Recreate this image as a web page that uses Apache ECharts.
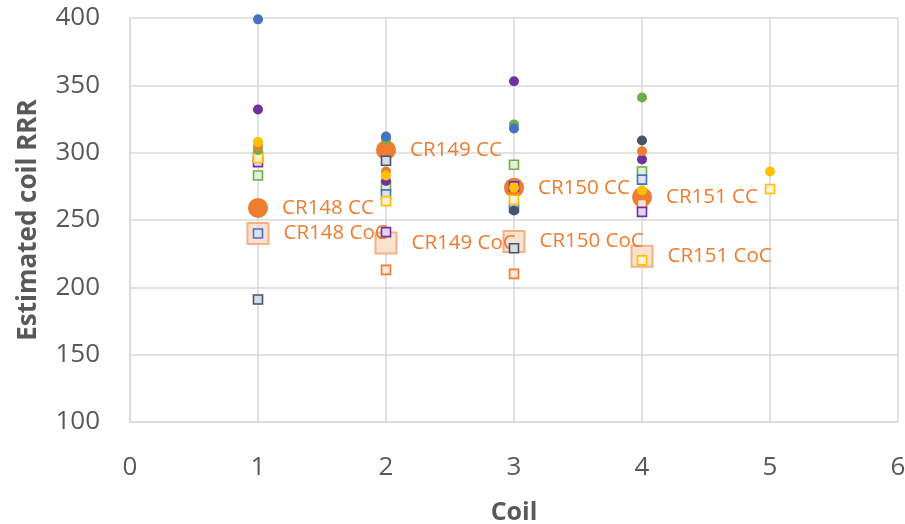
<!DOCTYPE html>
<html><head><meta charset="utf-8">
<script src="https://cdn.jsdelivr.net/npm/echarts@6/dist/echarts.min.js"></script>
<style>html,body{margin:0;padding:0;background:#fff}#c{width:905px;height:524px}</style>
</head><body><div id="c"></div>
<script>
// coil index 1..5
const coils = [1, 2, 3, 4, 5];
// CC (circle) values per coil, by colour group
const blueCC   = [399, 312, 318, null, null];
const orangeCC = [305, 286, null, 301, null];
const purpleCC = [332, 279, 353, 295, null];
const yellowCC = [308, 283, 274, 272, 286];
const greenCC  = [302, 310, 321, 341, null];
const navyCC   = [null, null, 257, 309, null];
// CoC (square) values per coil
const blueCoC   = [240, 269, 259, 280, null];
const orangeCoC = [297, 213, 210, 262, null];
const purpleCoC = [293, 241, 275, 256, null];
const yellowCoC = [296, 264, 265, 220, 273];
const greenCoC  = [283, 275, 291, 286, null];
const navyCoC   = [191, 294, 229, null, null];
// cable averages
const cables = ['CR148', 'CR149', 'CR150', 'CR151'];
const cableCoil = [1, 2, 3, 4];
const cableCC  = [259, 302, 274, 267];
const cableCoC = [240, 233, 234, 223];
const yTicks = [100, 150, 200, 250, 300, 350, 400];
const xTicks = [0, 1, 2, 3, 4, 5, 6];

const FONT = '"Open Sans", "Liberation Sans", sans-serif';
const pts = arr => coils.map((c, i) => arr[i] == null ? null : [c, arr[i]]).filter(Boolean);

function circ(name, arr, color) {
  return { name, type: 'scatter', data: pts(arr), symbol: 'circle', symbolSize: 10, z: 5,
    itemStyle: { color: color, opacity: 1 } };
}
function sq(name, arr, color, fill) {
  return { name, type: 'scatter', data: pts(arr), symbol: 'rect', symbolSize: 9, z: 4,
    itemStyle: { color: fill, borderColor: color, borderWidth: 1.6, opacity: 1 } };
}

const series = [
  { name: 'CC mean', type: 'scatter', symbol: 'circle', symbolSize: 20, z: 3,
    data: cableCoil.map((c, i) => ({ value: [c, cableCC[i]], label: { formatter: cables[i] + ' CC' } })),
    itemStyle: { color: '#ED7D31', opacity: 1 },
    label: { show: true, position: 'right', distance: 14, color: '#ED7D31', fontSize: 20.5, fontFamily: FONT } },
  { name: 'CoC mean', type: 'scatter', symbol: 'rect', symbolSize: 21, z: 2,
    data: cableCoil.map((c, i) => ({ value: [c, cableCoC[i]], label: { formatter: cables[i] + ' CoC' } })),
    itemStyle: { color: '#FBE1CF', borderColor: '#F4B183', borderWidth: 2, opacity: 1 },
    label: { show: true, position: 'right', distance: 14, color: '#ED7D31', fontSize: 20.5, fontFamily: FONT } },
  sq('navy CoC', navyCoC, '#44546A', '#D6DCE5'),
  sq('green CoC', greenCoC, '#70AD47', '#E2F0D9'),
  sq('orange CoC', orangeCoC, '#ED7D31', '#FBE5D6'),
  sq('purple CoC', purpleCoC, '#7030A0', '#E4D4F0'),
  sq('blue CoC', blueCoC, '#4472C4', '#DAE3F3'),
  sq('yellow CoC', yellowCoC, '#FFC000', '#FFF2CC'),
  circ('navy CC', navyCC, '#44546A'),
  circ('green CC', greenCC, '#70AD47'),
  circ('blue CC', blueCC, '#4472C4'),
  circ('purple CC', purpleCC, '#7030A0'),
  circ('orange CC', orangeCC, '#ED7D31'),
  circ('yellow CC', yellowCC, '#FFC000')
];

const chart = echarts.init(document.getElementById('c'), null, { renderer: 'canvas' });
chart.setOption({
  animation: false,
  backgroundColor: '#fff',
  grid: { left: 130, right: 7, top: 18, bottom: 102, outerBoundsMode: 'none', containLabel: false },
  xAxis: {
    type: 'value', min: xTicks[0], max: xTicks[xTicks.length - 1], interval: 1,
    name: 'Coil', nameLocation: 'middle', nameGap: 78,
    nameTextStyle: { fontSize: 25, fontWeight: 'bold', color: '#595959', fontFamily: FONT },
    axisLine: { show: true, lineStyle: { color: '#D9D9D9', width: 1.5 } },
    axisTick: { show: false },
    splitLine: { show: true, lineStyle: { color: '#D9D9D9', width: 1.5 } },
    axisLabel: { margin: 33, fontSize: 26, color: '#595959', fontFamily: FONT }
  },
  yAxis: {
    type: 'value', min: yTicks[0], max: yTicks[yTicks.length - 1], interval: 50,
    name: 'Estimated coil RRR', nameLocation: 'middle', nameGap: 88, nameRotate: 90,
    nameTextStyle: { fontSize: 26, fontWeight: 'bold', color: '#595959', fontFamily: FONT },
    axisLine: { show: true, lineStyle: { color: '#D9D9D9', width: 1.5 } },
    axisTick: { show: false },
    splitLine: { show: true, lineStyle: { color: '#D9D9D9', width: 1.5 } },
    axisLabel: { margin: 30, fontSize: 26, color: '#595959', fontFamily: FONT }
  },
  series: series
});
</script></body></html>
